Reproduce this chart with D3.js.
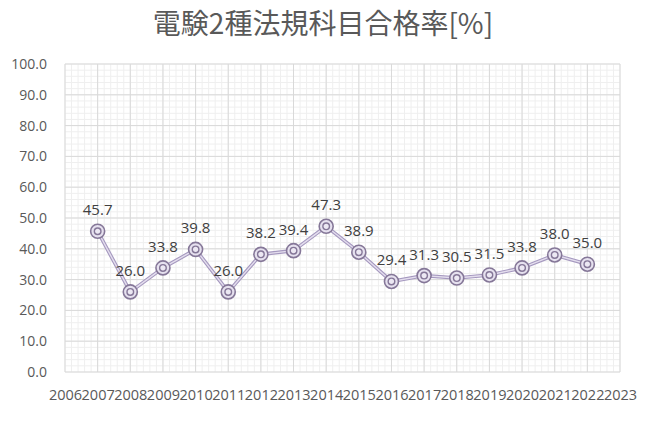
<!DOCTYPE html>
<html><head><meta charset="utf-8">
<script src="https://cdn.jsdelivr.net/npm/d3@7/dist/d3.min.js"></script>
<style>body{margin:0;background:#fff;} svg{display:block;}</style>
</head><body>
<svg id="chart" width="650" height="422"></svg>
<script>
const title = "電験2種法規科目合格率[%]";
const years = [2007,2008,2009,2010,2011,2012,2013,2014,2015,2016,2017,2018,2019,2020,2021,2022];
const rates = [45.7,26.0,33.8,39.8,26.0,38.2,39.4,47.3,38.9,29.4,31.3,30.5,31.5,33.8,38.0,35.0];
const xTicks = d3.range(2006, 2024);
const yTicks = [0,10,20,30,40,50,60,70,80,90,100];

const svg = d3.select("#chart");
const L = 65, R = 620, T = 64, B = 372;
const x = d3.scaleLinear().domain([2006, 2023]).range([L, R]);
const y = d3.scaleLinear().domain([0, 100]).range([B, T]);

// minor grid
const minorX = d3.range(0, 17*5+1).map(i => 2006 + i*0.2);
const minorY = d3.range(0, 51).map(i => i*2);
svg.append("g").selectAll("line").data(minorX).join("line")
  .attr("x1", d => x(d)).attr("x2", d => x(d)).attr("y1", T).attr("y2", B)
  .attr("stroke", "#efefef").attr("stroke-width", 1);
svg.append("g").selectAll("line").data(minorY).join("line")
  .attr("y1", d => y(d)).attr("y2", d => y(d)).attr("x1", L).attr("x2", R)
  .attr("stroke", "#efefef").attr("stroke-width", 1);
// major grid
svg.append("g").selectAll("line").data(xTicks).join("line")
  .attr("x1", d => x(d)).attr("x2", d => x(d)).attr("y1", T).attr("y2", B)
  .attr("stroke", "#d9d9d9").attr("stroke-width", 1);
svg.append("g").selectAll("line").data(yTicks).join("line")
  .attr("y1", d => y(d)).attr("y2", d => y(d)).attr("x1", L).attr("x2", R)
  .attr("stroke", "#d9d9d9").attr("stroke-width", 1);

// axes labels
const yAxis = d3.axisLeft(y).tickValues(yTicks).tickFormat(d3.format(".1f")).tickSize(0).tickPadding(18);
const gy = svg.append("g").attr("transform", `translate(${L},0)`).call(yAxis);
gy.select(".domain").remove();
gy.selectAll("text").attr("font-family", "Open Sans").attr("font-size", "14px").attr("fill", "#595959");

const xAxis = d3.axisBottom(x).tickValues(xTicks).tickFormat(d3.format("d")).tickSize(0).tickPadding(18);
const gx = svg.append("g").attr("transform", `translate(0,${B})`).call(xAxis);
gx.select(".domain").remove();
gx.selectAll("text").attr("font-family", "Open Sans").attr("font-size", "14.5px").attr("fill", "#595959");

// line
const data = years.map((yr, i) => ({yr, v: rates[i]}));
const line = d3.line().x(d => x(d.yr)).y(d => y(d.v));
svg.append("path").datum(data).attr("d", line).attr("fill", "none")
  .attr("stroke", "#a598bf").attr("stroke-width", 3.6).attr("stroke-linejoin", "round");
svg.append("path").datum(data).attr("d", line).attr("fill", "none")
  .attr("stroke", "#e4deee").attr("stroke-width", 1.4).attr("stroke-linejoin", "round");

// markers
const m = svg.append("g").selectAll("g").data(data).join("g")
  .attr("transform", d => `translate(${x(d.yr)},${y(d.v)})`);
m.append("circle").attr("r", 7).attr("fill", "#e6e1ef").attr("stroke", "#857798").attr("stroke-width", 1.6);
m.append("circle").attr("r", 3.3).attr("fill", "#ece8f3").attr("stroke", "#857798").attr("stroke-width", 1.4);

// data labels
svg.append("g").selectAll("text").data(data).join("text")
  .attr("x", d => x(d.yr)).attr("y", d => y(d.v) - 16)
  .attr("text-anchor", "middle").attr("font-family", "Open Sans").attr("font-size", "15px")
  .attr("fill", "#404040").text(d => d3.format(".1f")(d.v));

// title
svg.append("text").attr("x", 323).attr("y", 34).attr("text-anchor", "middle")
  .attr("font-family", "Noto Sans CJK JP").attr("font-size", "28px").attr("fill", "#595959")
  .text(title);
</script>
</body></html>
